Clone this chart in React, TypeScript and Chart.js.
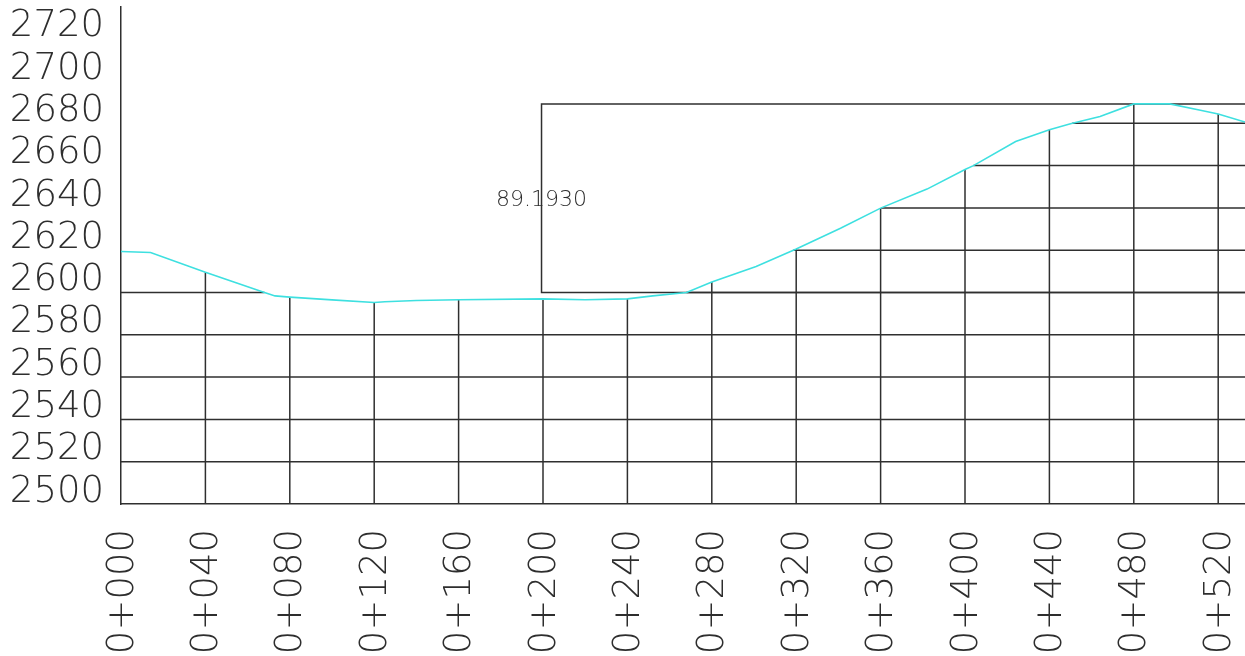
import React, { useEffect, useRef } from "react";
import { Chart, registerables } from "chart.js";

Chart.register(...registerables);

// Profile: station (m) and ground elevation (m)
const stations = [0, 14, 40, 68, 73, 80, 100, 120, 125, 140, 160, 200, 220, 240, 252, 268, 280, 301, 320, 341, 360, 382, 400, 404, 424, 440, 450, 464, 480, 497, 511, 520, 532.7];
const elevations = [2619.4, 2618.9, 2609.6, 2600.0, 2598.4, 2597.8, 2596.5, 2595.3, 2595.6, 2596.2, 2596.6, 2597.0, 2596.6, 2597.0, 2598.4, 2600.0, 2605.0, 2612.3, 2620.6, 2630.4, 2639.9, 2648.9, 2658.2, 2660.0, 2671.4, 2677.0, 2679.8, 2683.2, 2689.193, 2689.193, 2686.3, 2684.4, 2680.6];

const stationTicks = [0, 40, 80, 120, 160, 200, 240, 280, 320, 360, 400, 440, 480, 520];
const elevationTicks = [2500, 2520, 2540, 2560, 2580, 2600, 2620, 2640, 2660, 2680, 2700, 2720];
const gridLevels = [2520, 2540, 2560, 2580, 2600, 2620, 2640, 2660, 2680];

const stationMin = 0;
const stationMax = 532.7;
const elevationMin = 2500;
const elevationMax = 2735;

const datumElevation = 2600;
const boxStartStation = 199.3;
const boxTopElevation = 2689.193;

const LINE = "#2f2f2f";
const CYAN = "#3ee0e0";
const TEXT = "#2e2e2e";
const FONT = "DejaVu Sans";

function elevationAt(s: number): number {
  if (s <= stations[0]) return elevations[0];
  for (let i = 1; i < stations.length; i++) {
    if (s <= stations[i]) {
      const t = (s - stations[i - 1]) / (stations[i] - stations[i - 1]);
      return elevations[i - 1] + t * (elevations[i] - elevations[i - 1]);
    }
  }
  return elevations[elevations.length - 1];
}

function intervalsAbove(level: number): [number, number][] {
  const out: [number, number][] = [];
  let start: number | null = elevations[0] >= level ? stations[0] : null;
  for (let i = 1; i < stations.length; i++) {
    const e0 = elevations[i - 1];
    const e1 = elevations[i];
    const s0 = stations[i - 1];
    const s1 = stations[i];
    if (start === null && e1 >= level && e0 < level) {
      start = s0 + ((level - e0) / (e1 - e0)) * (s1 - s0);
    } else if (start !== null && e1 < level && e0 >= level) {
      const end = s0 + ((level - e0) / (e1 - e0)) * (s1 - s0);
      out.push([start, end]);
      start = null;
    }
  }
  if (start !== null) out.push([start, stationMax]);
  return out;
}

function stationLabel(v: number): string {
  const km = Math.floor(v / 1000);
  const m = Math.round(v - km * 1000);
  return `${km}+${String(m).padStart(3, "0")}`;
}

export default function App() {
  const ref = useRef<HTMLCanvasElement | null>(null);

  useEffect(() => {
    document.body.style.margin = "0";
    const canvas = ref.current;
    if (!canvas) return;

    const lineStyle = {
      borderColor: LINE,
      borderWidth: 1.5,
      pointRadius: 0,
      fill: false,
      tension: 0,
      order: 2,
    };

    const datasets: any[] = [];
    datasets.push({
      label: "profile",
      data: stations.map((s, i) => ({ x: s, y: elevations[i] })),
      borderColor: CYAN,
      borderWidth: 1.6,
      pointRadius: 0,
      fill: false,
      tension: 0,
      order: 0,
    });

    gridLevels.forEach((lv) => {
      intervalsAbove(lv).forEach(([a, b]) => {
        datasets.push({ ...lineStyle, data: [{ x: a, y: lv }, { x: b, y: lv }] });
      });
    });

    stationTicks.forEach((s) => {
      if (s === stationMin) return;
      datasets.push({ ...lineStyle, data: [{ x: s, y: elevationMin }, { x: s, y: elevationAt(s) }] });
    });

    datasets.push({
      ...lineStyle,
      order: 1,
      data: [
        { x: stationMax, y: datumElevation },
        { x: boxStartStation, y: datumElevation },
        { x: boxStartStation, y: boxTopElevation },
        { x: stationMax, y: boxTopElevation },
      ],
    });

    const boxLabelPlugin = {
      id: "boxLabel",
      afterDatasetsDraw(chart: any) {
        const { ctx, scales } = chart;
        const px = scales.x.getPixelForValue(boxStartStation);
        const py = scales.y.getPixelForValue((datumElevation + boxTopElevation) / 2);
        ctx.save();
        ctx.font = `200 22px "${FONT}"`;
        ctx.fillStyle = TEXT;
        ctx.textAlign = "center";
        ctx.textBaseline = "alphabetic";
        ctx.fillText((boxTopElevation - datumElevation).toFixed(4), px, py + 8);
        ctx.restore();
      },
    };

    const chart = new Chart(canvas, {
      type: "line",
      data: { datasets },
      plugins: [boxLabelPlugin],
      options: {
        animation: false,
        responsive: false,
        maintainAspectRatio: false,
        events: [],
        layout: { padding: { top: 7, right: 0, left: 0, bottom: 0 } },
        plugins: { legend: { display: false }, tooltip: { enabled: false } },
        scales: {
          x: {
            type: "linear",
            min: stationMin,
            max: stationMax,
            afterBuildTicks: (s: any) => {
              s.ticks = stationTicks.map((v) => ({ value: v }));
            },
            afterFit: (s: any) => {
              s.height = 152;
              s.paddingLeft = 0;
              s.paddingRight = 0;
            },
            grid: { display: false, drawTicks: false },
            border: { display: true, color: LINE, width: 1.5 },
            ticks: {
              autoSkip: false,
              maxRotation: 90,
              minRotation: 90,
              padding: 25,
              labelOffset: 2,
              color: TEXT,
              font: { family: FONT, size: 37, weight: 200 as any },
              callback: (v: any) => stationLabel(Number(v)),
            },
          },
          y: {
            type: "linear",
            min: elevationMin,
            max: elevationMax,
            afterBuildTicks: (s: any) => {
              s.ticks = elevationTicks.map((v) => ({ value: v }));
            },
            afterFit: (s: any) => {
              s.width = 121;
              s.paddingTop = 0;
              s.paddingBottom = 0;
            },
            grid: { display: false, drawTicks: false },
            border: { display: true, color: LINE, width: 1.5 },
            ticks: {
              autoSkip: false,
              padding: 17,
              labelOffset: -12,
              color: TEXT,
              font: { family: FONT, size: 37, weight: 200 as any },
              callback: (v: any) => String(v),
            },
          },
        },
      },
    });

    return () => chart.destroy();
  }, []);

  return <canvas ref={ref} width={1245} height={656} style={{ display: "block" }} />;
}
